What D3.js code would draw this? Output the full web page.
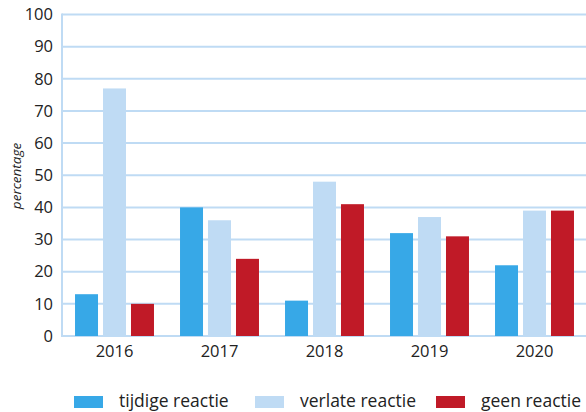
<!DOCTYPE html>
<html><head><meta charset="utf-8">
<script src="https://cdn.jsdelivr.net/npm/d3@7/dist/d3.min.js"></script>
<style>body{margin:0;background:#fff}svg{display:block}</style>
</head><body><svg id="c" width="586" height="412"></svg>
<script>
const years = ["2016","2017","2018","2019","2020"];
const series = ["tijdige reactie","verlate reactie","geen reactie"];
const tijdige = [13,40,11,32,22];
const verlate = [77,36,48,37,39];
const geen = [10,24,41,31,39];
const yTicks = [0,10,20,30,40,50,60,70,80,90,100];
const colors = ["#37a8e7","#bfdbf4","#c01a27"];
const values = [tijdige, verlate, geen];

const svg = d3.select("#c");
const font = "'Open Sans', sans-serif";
const x0 = d3.scaleBand().domain(years).range([62,587]).paddingInner(0.248).paddingOuter(0.124);
const x1 = d3.scaleBand().domain(series).range([0,x0.bandwidth()]).paddingInner(0.1786).paddingOuter(0);
const y = d3.scaleLinear().domain([0,100]).range([336,14.5]);

// gridlines
svg.append("g").selectAll("line").data(yTicks).join("line")
  .attr("x1",62).attr("x2",586).attr("y1",d=>y(d)).attr("y2",d=>y(d))
  .attr("stroke","#bfdbf4").attr("stroke-width",2);
svg.append("line").attr("x1",62).attr("x2",62).attr("y1",y(100)-1).attr("y2",y(0)+1)
  .attr("stroke","#bfdbf4").attr("stroke-width",2);

// y tick labels
const yAxis = d3.axisLeft(y).tickValues(yTicks).tickSize(0).tickPadding(9);
const ga = svg.append("g").attr("transform","translate(62,0)").call(yAxis);
ga.select(".domain").remove();
ga.selectAll("text").attr("font-family",font).attr("font-size",16.5).attr("fill","#222");

// bars
const groups = svg.append("g").selectAll("g").data(years).join("g")
  .attr("transform",d=>`translate(${x0(d)},0)`);
groups.selectAll("rect").data((d,i)=>series.map((s,j)=>({s, v:values[j][i], c:colors[j]})))
  .join("rect")
  .attr("x",d=>x1(d.s)).attr("width",x1.bandwidth())
  .attr("y",d=>y(d.v)).attr("height",d=>y(0)-y(d.v)).attr("fill",d=>d.c);

// x axis labels
const xAxis = d3.axisBottom(x0).tickSize(0).tickPadding(8);
const gx = svg.append("g").attr("transform","translate(0,337)").call(xAxis);
gx.select(".domain").remove();
gx.selectAll("text").attr("font-family",font).attr("font-size",16.5).attr("fill","#222");

// y label
svg.append("text").attr("transform","translate(21,176) rotate(-90)")
  .attr("text-anchor","middle").attr("font-family",font).attr("font-style","italic")
  .attr("font-size",13.5).attr("fill","#222").text("percentage");

// legend
const legX = [74,255,436];
const leg = svg.append("g").selectAll("g").data(series).join("g")
  .attr("transform",(d,i)=>`translate(${legX[i]},396)`);
leg.append("rect").attr("width",29).attr("height",12).attr("fill",(d,i)=>colors[i]);
leg.append("text").attr("x",45).attr("y",11).attr("font-family",font).attr("font-size",17.5)
  .attr("fill","#222").text(d=>d);
</script></body></html>
